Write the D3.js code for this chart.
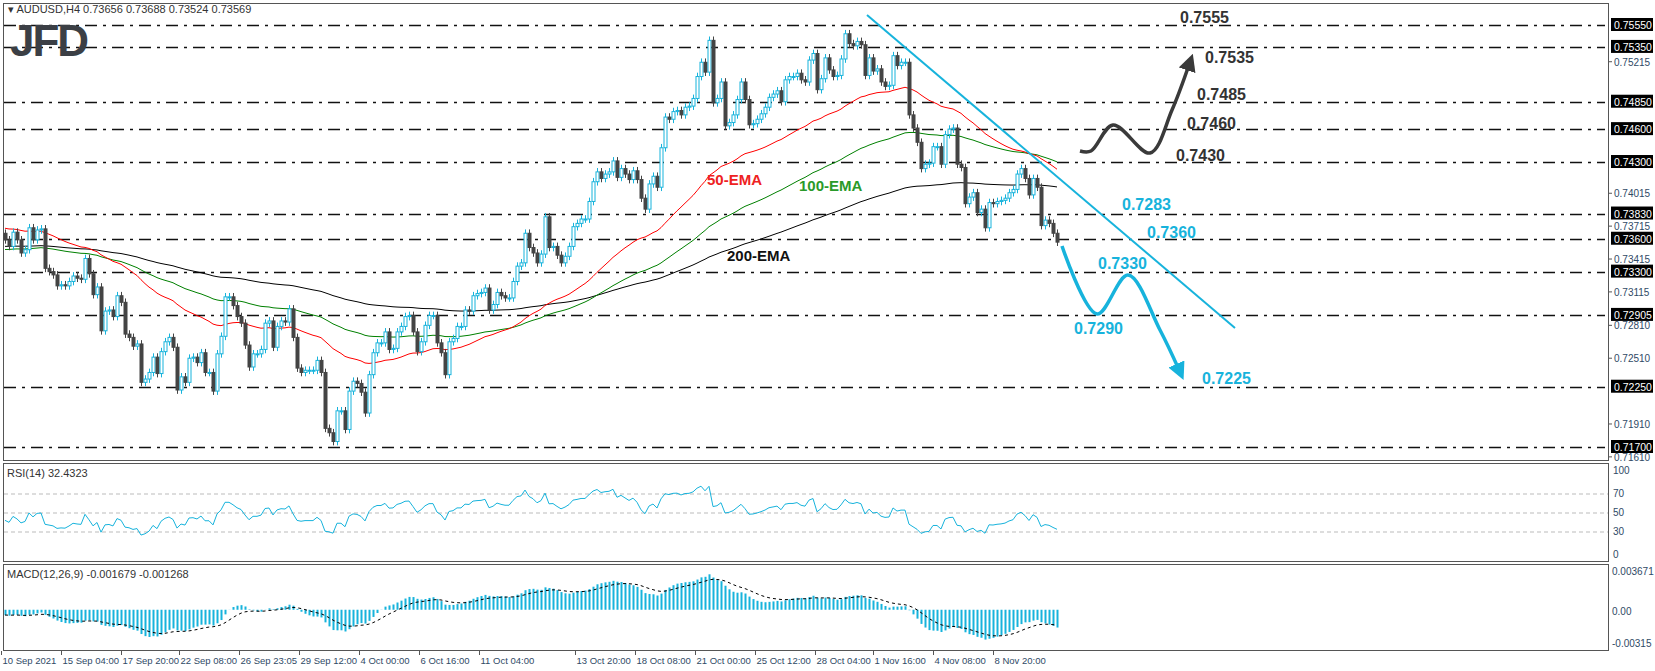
<!DOCTYPE html>
<html>
<head>
<meta charset="utf-8">
<script src="https://cdn.jsdelivr.net/npm/d3@7"></script>
<style>
  body { margin: 0; background: #fff; }
  text { font-family: "Liberation Sans", Arial, sans-serif; }
</style>
</head>
<body>
<svg id="chart" width="1655" height="671"></svg>
<script>
"use strict";

// H4 closes, 10 Sep 2021 .. 9 Nov 2021
var closes = [
  0.7359, 0.7353, 0.7366, 0.7359, 0.7347, 0.7350, 0.7370, 0.7359, 0.7368, 0.7369,
  0.7333, 0.7330, 0.7327, 0.7317, 0.7318, 0.7317, 0.7321, 0.7326, 0.7324, 0.7323,
  0.7342, 0.7328, 0.7309, 0.7316, 0.7276, 0.7294, 0.7295, 0.7289, 0.7308, 0.7302,
  0.7273, 0.7270, 0.7262, 0.7264, 0.7229, 0.7232, 0.7238, 0.7252, 0.7237, 0.7257,
  0.7266, 0.7270, 0.7261, 0.7222, 0.7234, 0.7229, 0.7251, 0.7252, 0.7247, 0.7256,
  0.7238, 0.7238, 0.7221, 0.7255, 0.7271, 0.7307, 0.7307, 0.7299, 0.7289, 0.7283,
  0.7263, 0.7243, 0.7255, 0.7255, 0.7259, 0.7283, 0.7285, 0.7261, 0.7280, 0.7285,
  0.7284, 0.7296, 0.7270, 0.7242, 0.7238, 0.7240, 0.7240, 0.7240, 0.7249, 0.7238,
  0.7187, 0.7183, 0.7175, 0.7203, 0.7203, 0.7186, 0.7221, 0.7230, 0.7228, 0.7220,
  0.7201, 0.7236, 0.7256, 0.7265, 0.7265, 0.7275, 0.7259, 0.7260, 0.7275, 0.7280,
  0.7289, 0.7290, 0.7275, 0.7257, 0.7266, 0.7281, 0.7290, 0.7290, 0.7265, 0.7256,
  0.7236, 0.7266, 0.7269, 0.7280, 0.7280, 0.7295, 0.7294, 0.7308, 0.7310, 0.7311,
  0.7315, 0.7295, 0.7300, 0.7311, 0.7308, 0.7306, 0.7306, 0.7321, 0.7335, 0.7338,
  0.7365, 0.7352, 0.7347, 0.7338, 0.7346, 0.7380, 0.7352, 0.7353, 0.7345, 0.7338,
  0.7344, 0.7353, 0.7371, 0.7374, 0.7378, 0.7378, 0.7394, 0.7412, 0.7421, 0.7415,
  0.7419, 0.7421, 0.7431, 0.7416, 0.7424, 0.7419, 0.7414, 0.7422, 0.7414, 0.7397,
  0.7387, 0.7410, 0.7417, 0.7407, 0.7443, 0.7471, 0.7469, 0.7476, 0.7477, 0.7473,
  0.7480, 0.7481, 0.7488, 0.7508, 0.7521, 0.7512, 0.7541, 0.7484, 0.7488, 0.7503,
  0.7463, 0.7466, 0.7473, 0.7487, 0.7503, 0.7487, 0.7464, 0.7465, 0.7469, 0.7474,
  0.7480, 0.7489, 0.7492, 0.7495, 0.7485, 0.7505, 0.7508, 0.7508, 0.7511, 0.7505,
  0.7503, 0.7523, 0.7529, 0.7496, 0.7506, 0.7525, 0.7514, 0.7508, 0.7509, 0.7524,
  0.7547, 0.7538, 0.7536, 0.7540, 0.7537, 0.7509, 0.7525, 0.7513, 0.7515, 0.7503,
  0.7499, 0.7500, 0.7527, 0.7518, 0.7521, 0.7521, 0.7473, 0.7461, 0.7448, 0.7424,
  0.7428, 0.7429, 0.7444, 0.7444, 0.7428, 0.7455, 0.7460, 0.7461, 0.7428, 0.7425,
  0.7392, 0.7398, 0.7402, 0.7384, 0.7387, 0.7370, 0.7393, 0.7392, 0.7394, 0.7395,
  0.7397, 0.7402, 0.7405, 0.7419, 0.7424, 0.7415, 0.7400, 0.7415, 0.7407, 0.7372,
  0.7377, 0.7374, 0.7365, 0.73569
];
var firstOpen = 0.7365;

// indicator starting states
var emaStart = { e50: 0.7370, e100: 0.7350, e200: 0.7353 };
var macdStart = { fast: 0.7365, slow: 0.7370, signal: -0.0005 };
var rsiStart = { gain: 0.0004, loss: 0.0005 };

var levels = [0.7555, 0.7535, 0.7485, 0.7460, 0.7430, 0.7383, 0.7360, 0.7330, 0.72905, 0.7225, 0.7170];
var levelBoxes = ["0.75550", "0.75350", "0.74850", "0.74600", "0.74300", "0.73830", "0.73600", "0.73300", "0.72905", "0.72250", "0.71700"];
var priceTicks = [0.75215, 0.74015, 0.73715, 0.73415, 0.73115, 0.72810, 0.72510, 0.71910, 0.71610];

var timeLabels = ["10 Sep 2021", "15 Sep 04:00", "17 Sep 20:00", "22 Sep 08:00", "26 Sep 23:05", "29 Sep 12:00",
  "4 Oct 00:00", "6 Oct 16:00", "11 Oct 04:00", "13 Oct 20:00", "18 Oct 08:00", "21 Oct 00:00",
  "25 Oct 12:00", "28 Oct 04:00", "1 Nov 16:00", "4 Nov 08:00", "8 Nov 20:00"];
var timeBars = [-0.5, 14.5, 29.5, 44, 59, 74, 89, 104, 119, 143, 158, 173, 188, 203, 217.5, 232.5, 247.5];

var darkLabels = [["0.7555", 1180, 17], ["0.7535", 1205, 57], ["0.7485", 1197, 94], ["0.7460", 1187, 123], ["0.7430", 1176, 155]];
var blueLabels = [["0.7283", 1122, 204], ["0.7360", 1147, 232], ["0.7330", 1098, 263], ["0.7290", 1074, 328], ["0.7225", 1202, 378]];

var CYAN = "#17b3dc", DARK = "#444";
var svg = d3.select("#chart");

var x = d3.scaleLinear().domain([0, 263]).range([5, 1057]);
var y = d3.scaleLinear().domain([0.7170, 0.7555]).range([447, 25]);
var yr = d3.scaleLinear().domain([0, 100]).range([560.5, 465.5]);
var ym = d3.scaleLinear().domain([-0.00315, 0.003671]).range([643, 571]);

// candles
var bars = closes.map(function(c, i) {
  var o = i === 0 ? firstOpen : closes[i - 1];
  return { i: i, o: o, c: c, h: Math.max(o, c) + 0.00035, l: Math.min(o, c) - 0.00035 };
});

// EMAs, RSI, MACD
function ema(seed, n) {
  var k = 2 / (n + 1), v = seed;
  return closes.map(function(c) { v = c * k + v * (1 - k); return v; });
}
var e50 = ema(emaStart.e50, 50), e100 = ema(emaStart.e100, 100), e200 = ema(emaStart.e200, 200);
var f12 = ema(macdStart.fast, 12), s26 = ema(macdStart.slow, 26);
var macd = f12.map(function(v, i) { return v - s26[i]; });
var sig = [], sv = macdStart.signal;
macd.forEach(function(m) { sv = m * 0.2 + sv * 0.8; sig.push(sv); });
var rsi = [], ag = rsiStart.gain, al = rsiStart.loss;
bars.forEach(function(b) {
  var d = b.c - b.o;
  ag = (ag * 13 + Math.max(d, 0)) / 14;
  al = (al * 13 + Math.max(-d, 0)) / 14;
  rsi.push(100 - 100 / (1 + ag / al));
});

// panel frames
svg.append("rect").attr("x", 3.5).attr("y", 3.5).attr("width", 1605).attr("height", 457)
  .attr("fill", "none").attr("stroke", "#555");
svg.append("rect").attr("x", 3.5).attr("y", 463.5).attr("width", 1605).attr("height", 98)
  .attr("fill", "none").attr("stroke", "#555");
svg.append("rect").attr("x", 3.5).attr("y", 564.5).attr("width", 1605).attr("height", 86)
  .attr("fill", "none").attr("stroke", "#555");

// levels
svg.selectAll(".lvl").data(levels).enter().append("line")
  .attr("x1", 4).attr("x2", 1605)
  .attr("y1", function(d) { return Math.round(y(d)) + 0.5; })
  .attr("y2", function(d) { return Math.round(y(d)) + 0.5; })
  .attr("stroke", "#111").attr("stroke-width", 1.3).attr("stroke-dasharray", "12,6,3,6");

// price axis
var axisCol = "#2f4a66";
svg.selectAll(".pt").data(priceTicks).enter().append("text")
  .attr("x", 1614).attr("y", function(d) { return y(d) + 4; })
  .attr("font-size", 10).attr("fill", axisCol).text(function(d) { return d.toFixed(5); });
svg.selectAll(".ptk").data(priceTicks).enter().append("line")
  .attr("x1", 1609).attr("x2", 1612).attr("y1", function(d) { return y(d); }).attr("y2", function(d) { return y(d); })
  .attr("stroke", "#555");
var boxes = svg.selectAll(".lb").data(levels).enter().append("g");
boxes.append("rect").attr("x", 1611).attr("y", function(d) { return y(d) - 7; })
  .attr("width", 42).attr("height", 13).attr("fill", "#000");
boxes.append("text").attr("x", 1614).attr("y", function(d) { return y(d) + 4; })
  .attr("font-size", 10.5).attr("fill", "#fff").text(function(d, i) { return levelBoxes[i]; });

// EMA lines
function drawLine(vals, col) {
  svg.append("path").datum(vals).attr("fill", "none").attr("stroke", col).attr("stroke-width", 1)
    .attr("d", d3.line().x(function(d, i) { return x(i); }).y(function(d) { return y(d); }));
}
drawLine(e200, "#000");
drawLine(e100, "#008000");
drawLine(e50, "#ff0000");

// candles
var cg = svg.selectAll(".cd").data(bars).enter().append("g");
cg.append("line").attr("x1", function(d) { return x(d.i) + 0.5; }).attr("x2", function(d) { return x(d.i) + 0.5; })
  .attr("y1", function(d) { return y(d.h); }).attr("y2", function(d) { return y(d.l); })
  .attr("stroke", function(d) { return d.c >= d.o ? CYAN : DARK; });
cg.append("rect").attr("x", function(d) { return x(d.i) - 1; })
  .attr("y", function(d) { return y(Math.max(d.o, d.c)); })
  .attr("width", 3)
  .attr("height", function(d) { return Math.max(1, Math.abs(y(d.o) - y(d.c))); })
  .attr("fill", function(d) { return d.c >= d.o ? "#fff" : DARK; })
  .attr("stroke", function(d) { return d.c >= d.o ? CYAN : DARK; }).attr("stroke-width", 1);

// EMA labels
function label(t, px, py, col, size) {
  svg.append("text").attr("x", px).attr("y", py).attr("dy", "0.35em").attr("font-size", size)
    .attr("font-weight", "bold").attr("fill", col).text(t);
}
label("50-EMA", 707, 180, "#ee2222", 15);
label("100-EMA", 799, 186, "#2a9a2a", 15);
label("200-EMA", 727, 256, "#111", 15);

// trend line
svg.append("line").attr("x1", 867).attr("y1", 15).attr("x2", 1235).attr("y2", 328)
  .attr("stroke", CYAN).attr("stroke-width", 2);

// scenario paths
var defs = svg.append("defs");
[["ad", "#3a3a3a"], ["ab", CYAN]].forEach(function(m) {
  defs.append("marker").attr("id", m[0]).attr("viewBox", "0 0 10 10").attr("refX", 5).attr("refY", 5)
    .attr("markerWidth", 5).attr("markerHeight", 5).attr("orient", "auto")
    .append("path").attr("d", "M0,0L10,5L0,10Z").attr("fill", m[1]);
});
var curve = d3.line().curve(d3.curveCatmullRom.alpha(0.5));
svg.append("path").attr("d", curve([[1080, 151], [1091, 151], [1113, 125], [1150, 153], [1172, 110], [1190, 62]]))
  .attr("fill", "none").attr("stroke", "#3a3a3a").attr("stroke-width", 3.5).attr("marker-end", "url(#ad)");
svg.append("path").attr("d", curve([[1062, 246], [1097, 314], [1128, 275], [1160, 330], [1180, 372]]))
  .attr("fill", "none").attr("stroke", CYAN).attr("stroke-width", 3.5).attr("marker-end", "url(#ab)");

darkLabels.forEach(function(d) { label(d[0], d[1], d[2], "#333", 16); });
blueLabels.forEach(function(d) { label(d[0], d[1], d[2], CYAN, 16); });

// header and logo
svg.append("text").attr("x", 8).attr("y", 13).attr("font-size", 11).attr("fill", "#333")
  .text("\u25BE AUDUSD,H4  0.73656 0.73688 0.73524 0.73569");
svg.append("text").attr("x", 10).attr("y", 56).attr("font-size", 44).attr("font-weight", "bold")
  .attr("font-family", "Roboto, sans-serif").attr("letter-spacing", -2).attr("fill", "#3b3f45").text("JFD");

// RSI panel
[70, 50, 30].forEach(function(v) {
  svg.append("line").attr("x1", 4).attr("x2", 1608).attr("y1", yr(v)).attr("y2", yr(v))
    .attr("stroke", "#bbb").attr("stroke-dasharray", "4,3");
});
svg.append("path").datum(rsi).attr("fill", "none").attr("stroke", CYAN).attr("stroke-width", 1)
  .attr("d", d3.line().x(function(d, i) { return x(i); }).y(function(d) { return yr(d); }));
[[100, 474], [70, 497], [50, 516], [30, 535], [0, 558]].forEach(function(d) {
  svg.append("text").attr("x", 1613).attr("y", d[1]).attr("font-size", 10).attr("fill", axisCol).text(d[0]);
});
svg.append("text").attr("x", 7).attr("y", 477).attr("font-size", 11).attr("fill", "#333").text("RSI(14) 32.4323");

// MACD panel
svg.selectAll(".mh").data(macd).enter().append("rect")
  .attr("x", function(d, i) { return x(i) - 0.5; }).attr("width", 2)
  .attr("y", function(d) { return Math.min(ym(d), ym(0)); })
  .attr("height", function(d) { return Math.abs(ym(d) - ym(0)); })
  .attr("fill", CYAN);
svg.append("path").datum(sig).attr("fill", "none").attr("stroke", "#000").attr("stroke-width", 1)
  .attr("stroke-dasharray", "3,3")
  .attr("d", d3.line().x(function(d, i) { return x(i); }).y(function(d) { return ym(d); }));
[["0.003671", 575], ["0.00", 615], ["-0.00315", 647]].forEach(function(d) {
  svg.append("text").attr("x", 1612).attr("y", d[1]).attr("font-size", 10).attr("fill", axisCol).text(d[0]);
});
svg.append("text").attr("x", 7).attr("y", 578).attr("font-size", 11).attr("fill", "#333")
  .text("MACD(12,26,9) -0.001679 -0.001268");

// time axis
timeBars.forEach(function(b, i) {
  var px = Math.round(x(b)) - 1.5;
  svg.append("line").attr("x1", px).attr("x2", px).attr("y1", 651).attr("y2", 655).attr("stroke", "#555");
  svg.append("text").attr("x", px + 1).attr("y", 664).attr("font-size", 9.5).attr("fill", axisCol).text(timeLabels[i]);
});
</script>
</body>
</html>
